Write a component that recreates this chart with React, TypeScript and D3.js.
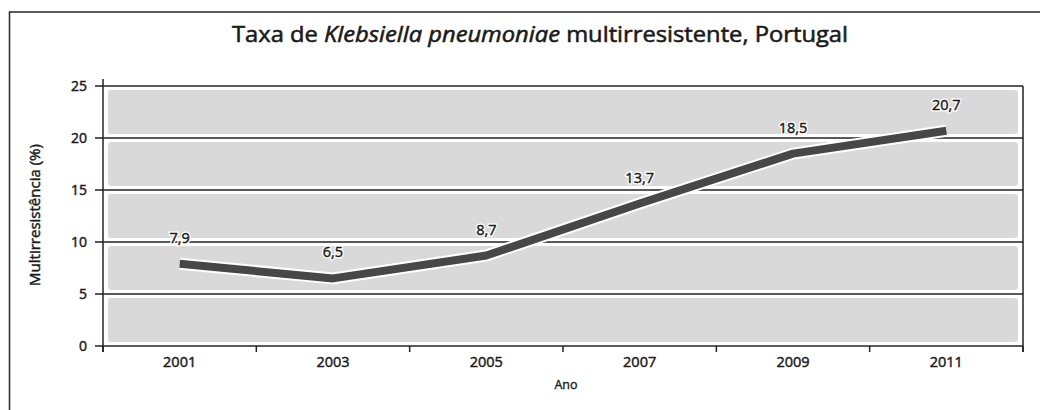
import React from "react";
import * as d3 from "d3";

const years = ["2001", "2003", "2005", "2007", "2009", "2011"];
const rates = [7.9, 6.5, 8.7, 13.7, 18.5, 20.7];
const rateLabels = ["7,9", "6,5", "8,7", "13,7", "18,5", "20,7"];
const yTicks = [0, 5, 10, 15, 20, 25];

const W = 1040;
const H = 410;
const left = 103;
const right = 1023;
const top = 86;
const bottom = 346;
const FONT = "'Open Sans', 'Noto Sans', sans-serif";
const INK = "#1a1a1a";
const thick = { stroke: INK, strokeWidth: 0.45 };

export default function App() {
  const x = d3.scaleBand<string>().domain(years).range([left, right]).paddingInner(0).paddingOuter(0);
  const y = d3.scaleLinear().domain([0, 25]).range([bottom, top]);
  const cx = (d: string) => (x(d) as number) + x.bandwidth() / 2;
  const line = d3
    .line<number>()
    .x((_, i) => cx(years[i]))
    .y((d) => y(d));
  const path = line(rates) || "";
  const boundaries = [...years.map((d) => x(d) as number), right];

  return (
    <svg width={W} height={H} style={{ position: "absolute", left: 0, top: 0, background: "#fff" }}>
      <rect x={9.5} y={12} width={1100} height={500} fill="#fff" stroke="#333" strokeWidth={1.6} />
      <text x={540} y={42} textAnchor="middle" fontFamily={FONT} fontSize={22} fill={INK} {...thick} strokeWidth={0.55} textLength={616} lengthAdjust="spacingAndGlyphs">
        Taxa de <tspan fontStyle="italic">Klebsiella pneumoniae</tspan> multirresistente, Portugal
      </text>
      {/* bands */}
      {yTicks.slice(0, -1).map((t, i) => (
        <rect
          key={"b" + i}
          x={left + 5}
          y={y(yTicks[i + 1]) + 4}
          width={right - left - 10}
          height={y(t) - y(yTicks[i + 1]) - 8}
          rx={3}
          fill="#d9d9d9"
        />
      ))}
      {/* gridlines */}
      {yTicks.map((t) => (
        <line key={"g" + t} x1={left - 8} x2={right} y1={y(t)} y2={y(t)} stroke="#222" strokeWidth={1.5} />
      ))}
      {/* axes */}
      <line x1={left} x2={left} y1={top - 7} y2={bottom + 6} stroke="#222" strokeWidth={1.5} />
      <line x1={right} x2={right} y1={top} y2={bottom + 6} stroke="#222" strokeWidth={1.5} />
      {boundaries.map((b, i) => (
        <line key={"t" + i} x1={b} x2={b} y1={bottom} y2={bottom + 6} stroke="#222" strokeWidth={1.5} />
      ))}
      {yTicks.map((t) => (
        <text key={"yl" + t} x={87} y={y(t)} dy="0.35em" textAnchor="end" fontFamily={FONT} fontSize={14} fill={INK} {...thick}>
          {t}
        </text>
      ))}
      <text
        transform={`translate(35,${(top + bottom) / 2 - 1}) rotate(-90)`}
        textAnchor="middle"
        dy="0.35em"
        fontFamily={FONT}
        fontSize={15}
        fill={INK}
        {...thick}
      >
        Multirresistência (%)
      </text>
      {years.map((d) => (
        <text key={"xl" + d} x={cx(d)} y={362} dy="0.35em" textAnchor="middle" fontFamily={FONT} fontSize={14.5} fill={INK} {...thick}>
          {d}
        </text>
      ))}
      <text x={(left + right) / 2 + 3} y={385} dy="0.35em" textAnchor="middle" fontFamily={FONT} fontSize={12.5} fill={INK} {...thick} strokeWidth={0.35}>
        Ano
      </text>
      {/* line */}
      <path d={path} fill="none" stroke="#fff" strokeWidth={12} strokeLinejoin="round" />
      <path d={path} fill="none" stroke="#474747" strokeWidth={8} strokeLinejoin="round" />
      {rates.map((v, i) => (
        <g key={"dl" + i}>
          <text
            x={cx(years[i])}
            y={y(v) - 21}
            textAnchor="middle"
            fontFamily={FONT}
            fontSize={14.5}
            fill="#fff"
            stroke="#fff"
            strokeWidth={3}
          >
            {rateLabels[i]}
          </text>
          <text
            x={cx(years[i])}
            y={y(v) - 21}
            textAnchor="middle"
            fontFamily={FONT}
            fontSize={14.5}
            fill={INK}
            {...thick}
          >
            {rateLabels[i]}
          </text>
        </g>
      ))}
    </svg>
  );
}
